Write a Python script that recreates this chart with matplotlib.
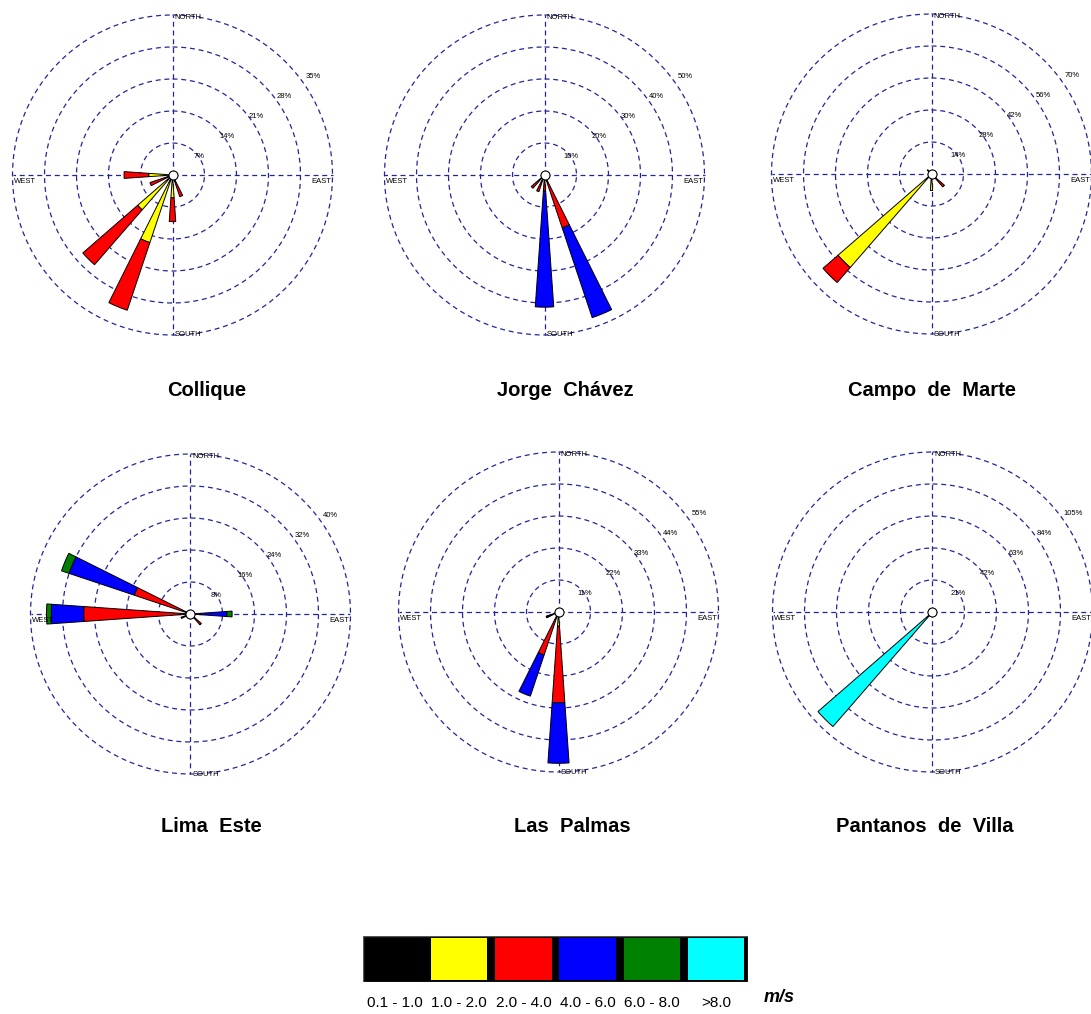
import numpy as np
import matplotlib.pyplot as plt
from matplotlib.patches import Rectangle

plt.rcParams['font.family'] = ['Liberation Sans', 'DejaVu Sans']

# Rumbos (16 direcciones) y clases de velocidad
directions = ["N", "NNE", "NE", "ENE", "E", "ESE", "SE", "SSE",
              "S", "SSW", "SW", "WSW", "W", "WNW", "NW", "NNW"]
speed_bins = ["0.1 - 1.0", "1.0 - 2.0", "2.0 - 4.0", "4.0 - 6.0", "6.0 - 8.0", ">8.0"]
speed_colors = ["#000000", "#ffff00", "#ff0000", "#0000ff", "#008000", "#00ffff"]

# Frecuencias (%) por direccion; filas = clases de velocidad
collique_dirs = ["W", "WSW", "SW", "SSW", "S", "SSE"]
collique_pct = [[0, 0, 0, 0, 0, 0],
                [5.2, 1.0, 10.1, 15.6, 5.0, 1.5],
                [5.4, 4.2, 15.9, 15.6, 5.2, 3.5],
                [0, 0, 0, 0, 0, 0],
                [0, 0, 0, 0, 0, 0],
                [0, 0, 0, 0, 0, 0]]

jorge_dirs = ["S", "SSE", "SW", "SSW"]
jorge_pct = [[0, 0, 0, 0],
             [1.0, 1.0, 1.0, 1.0],
             [4.0, 16.4, 4.5, 4.5],
             [36.3, 29.6, 0, 0],
             [0, 0, 0, 0],
             [0, 0, 0, 0]]

campo_dirs = ["SW", "S", "SE", "NW", "E"]
campo_pct = [[0, 0, 0, 0, 0],
             [54.2, 7.2, 2.5, 2.5, 2.0],
             [8.7, 0, 5.0, 0, 0],
             [0, 0, 0, 0, 0],
             [0, 0, 0, 0, 0],
             [0, 0, 0, 0, 0]]

lima_dirs = ["W", "WNW", "E", "SE", "WSW"]
lima_pct = [[0, 0, 0, 0, 0],
            [2.5, 1.0, 1.0, 1.0, 1.0],
            [24.2, 13.8, 1.4, 2.6, 1.5],
            [8.1, 17.2, 6.7, 0, 0],
            [1.2, 2.0, 1.3, 0, 0],
            [0, 0, 0, 0, 0]]

palmas_dirs = ["S", "SSW", "WSW"]
palmas_pct = [[0, 0, 4.5],
              [4.9, 0.5, 0],
              [26.3, 15.1, 0],
              [20.8, 14.9, 0],
              [0, 0, 0],
              [0, 0, 0]]

pantanos_dirs = ["SW"]
pantanos_pct = [[0], [0], [0], [0], [0], [99.6]]

station_names = ["Collique", "Jorge  Chávez", "Campo  de  Marte",
                 "Lima  Este", "Las  Palmas", "Pantanos  de  Villa"]
station_dirs = [collique_dirs, jorge_dirs, campo_dirs, lima_dirs, palmas_dirs, pantanos_dirs]
station_pct = [collique_pct, jorge_pct, campo_pct, lima_pct, palmas_pct, pantanos_pct]
ring_steps = [7, 10, 14, 8, 11, 21]

# Posiciones en pixeles (centro de cada rosa y de cada titulo)
W, H = 1091, 1014
centers = [(172.5, 175), (544.5, 175), (931.5, 174), (190.5, 614), (558.5, 612), (932.5, 612)]
title_pos = [(207, 390), (565, 390), (932, 390), (211, 826), (572, 826), (925, 826)]
R = 160  # radio del anillo exterior en px
grid_col = "#25259a"

fig = plt.figure(figsize=(W / 100, H / 100), dpi=100)

for name, dirs, pct, step, (cx, cy), (tx, ty) in zip(
        station_names, station_dirs, station_pct, ring_steps, centers, title_pos):
    ax = fig.add_axes([(cx - R) / W, (H - cy - R) / H, 2 * R / W, 2 * R / H],
                      projection="polar")
    ax.set_theta_zero_location("N")
    ax.set_theta_direction(-1)
    rmax = 5 * step
    ax.set_ylim(0, rmax)
    ax.axis("off")

    # anillos y ejes punteados
    t = np.linspace(0, 2 * np.pi, 400)
    for i in range(1, 6):
        ax.plot(t, np.full_like(t, i * step), color=grid_col, lw=0.9,
                dashes=(4, 3), clip_on=False, zorder=1)
    for a in [0, np.pi / 2, np.pi, 3 * np.pi / 2]:
        ax.plot([a, a], [0, rmax], color=grid_col, lw=0.9, dashes=(4, 3),
                clip_on=False, zorder=1)

    # petalos
    theta = np.array([np.deg2rad(22.5 * directions.index(d)) for d in dirs])
    pct = np.array(pct, dtype=float)
    bottom = np.zeros(len(dirs))
    for k in range(len(speed_bins)):
        vals = pct[k]
        m = vals > 0
        if m.any():
            ax.bar(theta[m], vals[m], width=0.14, bottom=bottom[m],
                   color=speed_colors[k], edgecolor="black", linewidth=0.7,
                   zorder=3, clip_on=False)
        bottom += vals
    ax.plot([0], [0], "o", ms=6.5, mfc="white", mec="black", mew=0.8,
            zorder=5, clip_on=False)

    # etiquetas de porcentaje
    ppu = 32.0 / step
    for i in range(1, 6):
        rl = (32 * i * 1.09 - 3) / ppu
        ax.text(np.deg2rad(55), rl, f"{i * step}%", fontsize=5.5,
                ha="center", va="center", zorder=6)

    ax.annotate("NORTH", (0, rmax), xytext=(1.5, -2), textcoords="offset points",
                fontsize=5.5, ha="left", va="center")
    ax.annotate("EAST", (np.pi / 2, rmax), xytext=(-1, -2), textcoords="offset points",
                fontsize=5.5, ha="right", va="top")
    ax.annotate("SOUTH", (np.pi, rmax), xytext=(1.5, 0), textcoords="offset points",
                fontsize=5.5, ha="left", va="center")
    ax.annotate("WEST", (3 * np.pi / 2, rmax), xytext=(1, -2), textcoords="offset points",
                fontsize=5.5, ha="left", va="top")

    fig.text(tx / W, 1 - ty / H, name, ha="center", va="center",
             fontsize=14.5, fontweight="bold")

# Leyenda de velocidades
lax = fig.add_axes([363 / W, 1 - 982 / H, 385 / W, 46 / H])
lax.set_xlim(0, 6)
lax.set_ylim(0, 1)
lax.axis("off")
lax.add_patch(Rectangle((0, 0), 6, 1, facecolor="black", edgecolor="#555555", lw=1))
for i, (lab, col) in enumerate(zip(speed_bins, speed_colors)):
    lax.add_patch(Rectangle((i + 0.06, 0.05), 0.88, 0.9, facecolor=col,
                            edgecolor="none"))
    lax.text(i + 0.5, -0.45, lab, ha="center", va="center", fontsize=11)
fig.text(779 / W, 1 - 998 / H, "m/s", ha="center", va="center",
         fontsize=13, fontweight="bold", fontstyle="italic")

plt.savefig("out.png", dpi=100)
